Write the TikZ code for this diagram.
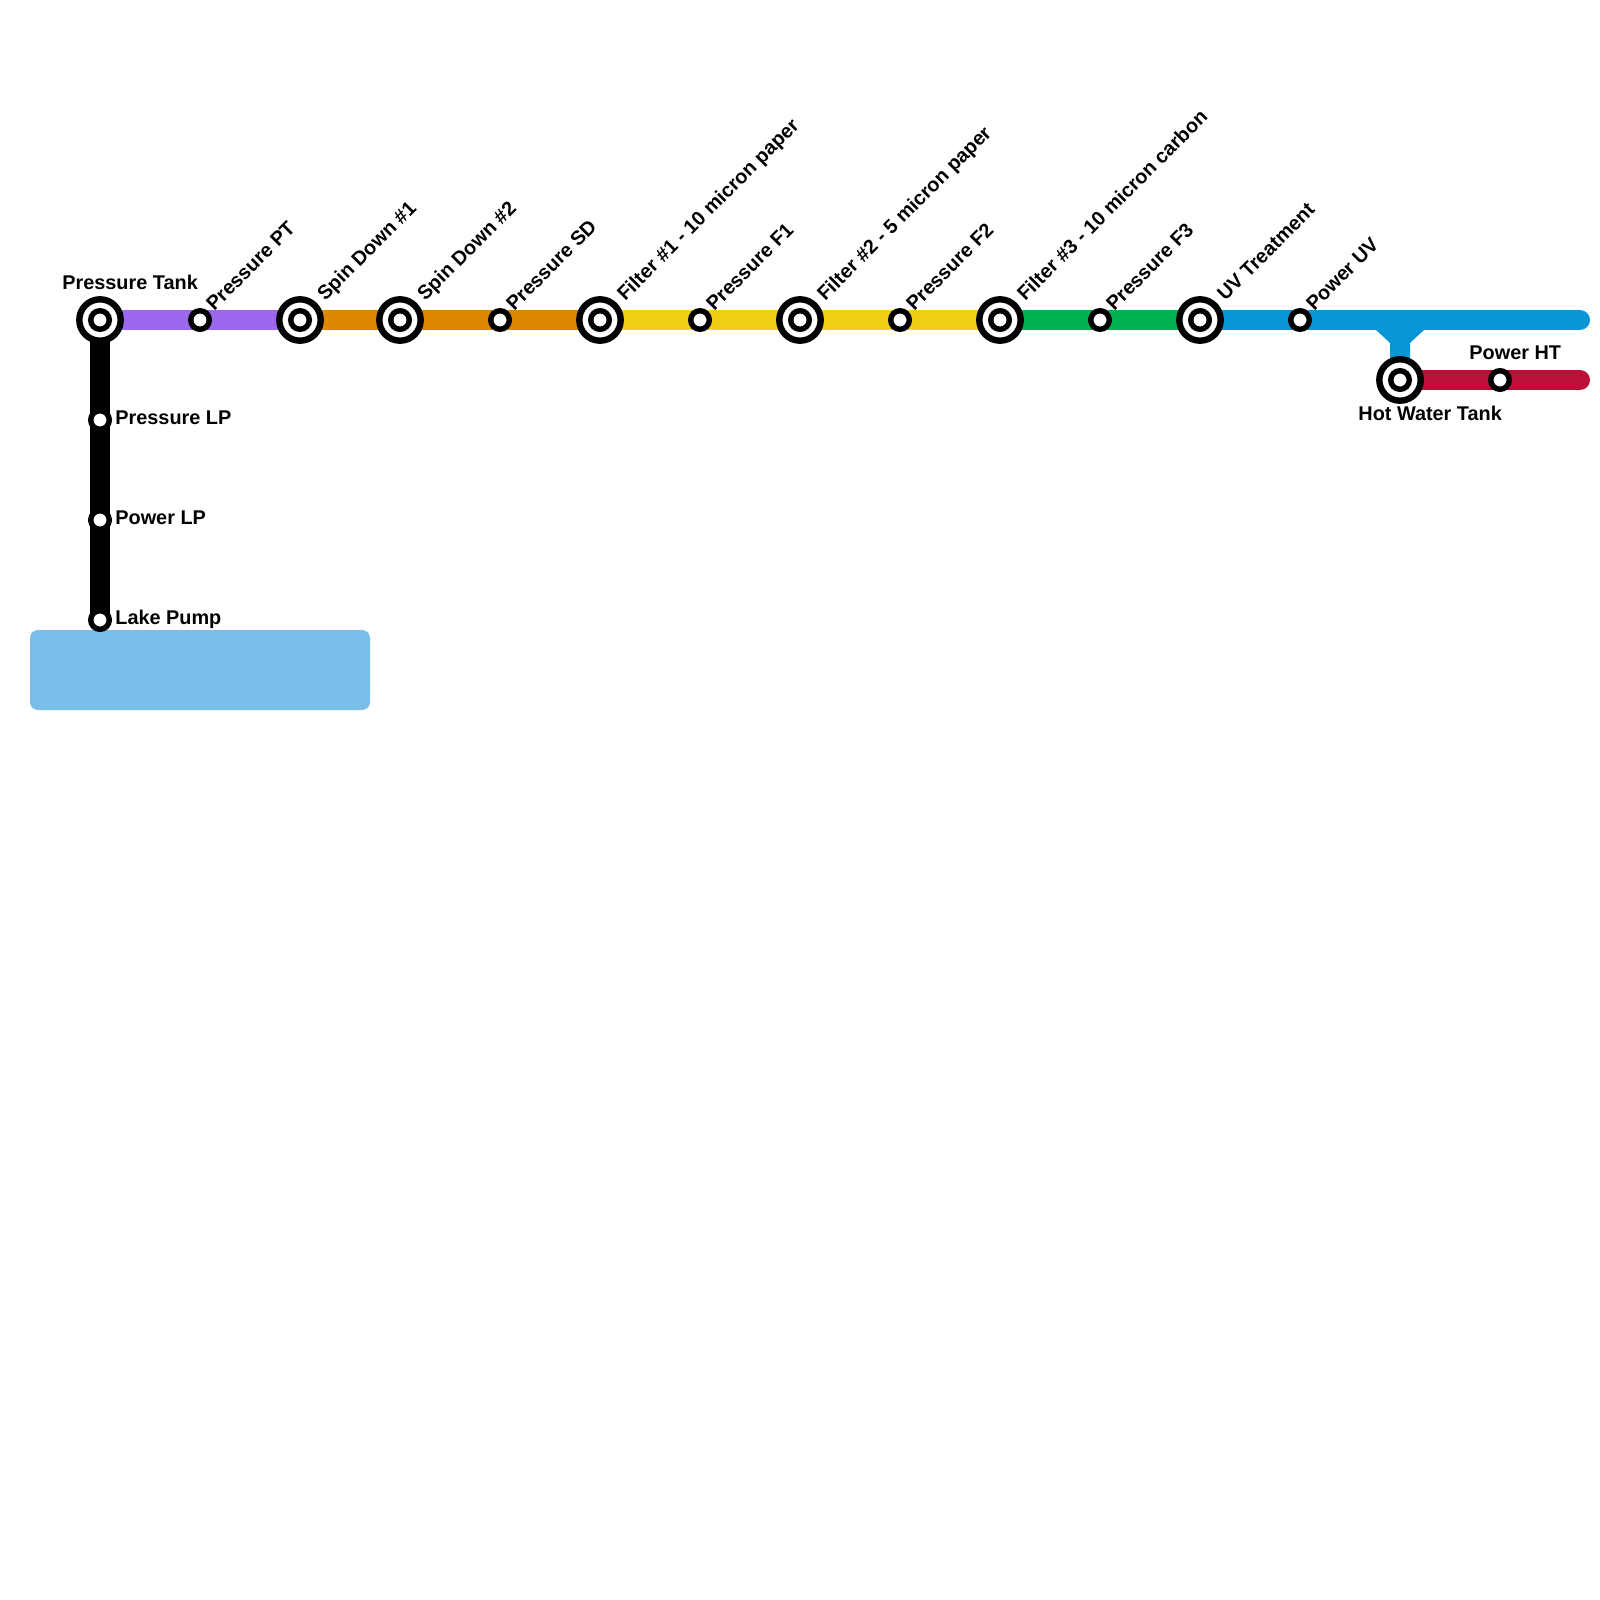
\documentclass[tikz,border=0pt]{standalone}
\usepackage{fontspec}
\setmainfont{Liberation Sans}
\definecolor{cPurple}{HTML}{9B68EE}
\definecolor{cOrange}{HTML}{DF8600}
\definecolor{cYellow}{HTML}{F0CE15}
\definecolor{cGreen}{HTML}{00B251}
\definecolor{cBlue}{HTML}{0896D7}
\definecolor{cRed}{HTML}{BD1038}
\definecolor{cLake}{HTML}{79BDE9}
\tikzset{
  x=0.5pt,y=-0.5pt,
  route/.style={line width=10pt,line cap=butt},
  routeend/.style={line width=10pt,line cap=round},
  stop/.style={circle,draw=black,fill=white,line width=2.7pt,outer sep=0pt,minimum size=9.3pt,inner sep=0pt},
  hub/.style={circle,draw=black,fill=white,line width=3.2pt,outer sep=0pt,minimum size=20.7pt,inner sep=0pt},
  hubcore/.style={circle,draw=black,fill=white,line width=2.7pt,outer sep=0pt,minimum size=9.3pt,inner sep=0pt},
  lbl/.style={font=\fontsize{9.93pt}{12pt}\bfseries,text=black,inner sep=0pt,anchor=base west},
  diag/.style={lbl,rotate=45},
}
\begin{document}
\begin{tikzpicture}
\useasboundingbox (0,0) rectangle (1600,1600);
\node[fill=cLake,rounded corners=4pt,minimum width=170pt,minimum height=40pt,inner sep=0pt] (lake) at (200,670) {};
\coordinate (a) at (100,320);
\foreach \n/\x in {pt/200,sd1/300,sd2/400,psd/500,f1/600,pf1/700,f2/800,pf2/900,f3/1000,pf3/1100,uv/1200,puv/1300}{\coordinate (\n) at (\x,320);}
\coordinate (blueEnd) at (1580,320);
\coordinate (ht) at (1400,380);
\coordinate (pht) at (1500,380);
\coordinate (redEnd) at (1580,380);
\coordinate (lp1) at (100,420);
\coordinate (lp2) at (100,520);
\coordinate (lp3) at (100,620);
\draw[route,cPurple] (a) -- (sd1);
\draw[route,cOrange] (sd1) -- (f1);
\draw[route,cYellow] (f1) -- (f3);
\draw[route,cGreen] (f3) -- (uv);
\draw[routeend,cBlue] (uv) -- (blueEnd);
\fill[cBlue] (1374,328) -- (1390,343) -- (1390,380) -- (1410,380) -- (1410,343) -- (1426,328) -- cycle;
\draw[routeend,cRed] (ht) -- (redEnd);
\draw[route,black] (a) -- (lp3);
\foreach \n in {a,sd1,sd2,f1,f2,f3,uv,ht}{
  \node[hub] (\n hub) at (\n) {};
  \node[hubcore] (\n core) at (\n) {};
}
\foreach \n in {pt,psd,pf1,pf2,pf3,puv,pht,lp1,lp2,lp3}{
  \node[stop] (\n stop) at (\n) {};
}
\node[lbl] (t0) at (62,289) {Pressure Tank};
\node[diag] (t1) at (214,312) {Pressure PT};
\node[diag] (t2) at (325,302) {Spin Down \#1};
\node[diag] (t3) at (425,302) {Spin Down \#2};
\node[diag] (t4) at (514,312) {Pressure SD};
\node[diag] (t5) at (625,302) {Filter \#1 - 10 micron paper};
\node[diag] (t6) at (714,312) {Pressure F1};
\node[diag] (t7) at (825,302) {Filter \#2 - 5 micron paper};
\node[diag] (t8) at (914,312) {Pressure F2};
\node[diag] (t9) at (1025,302) {Filter \#3 - 10 micron carbon};
\node[diag] (t10) at (1114,312) {Pressure F3};
\node[diag] (t11) at (1225,302) {UV Treatment};
\node[diag] (t12) at (1314,312) {Power UV};
\node[lbl] (t13) at (1469,359) {Power HT};
\node[lbl] (t14) at (1358,420) {Hot Water Tank};
\node[lbl] (t15) at (115,424) {Pressure LP};
\node[lbl] (t16) at (115,524) {Power LP};
\node[lbl] (t17) at (115,624) {Lake Pump};
\end{tikzpicture}
\end{document}
